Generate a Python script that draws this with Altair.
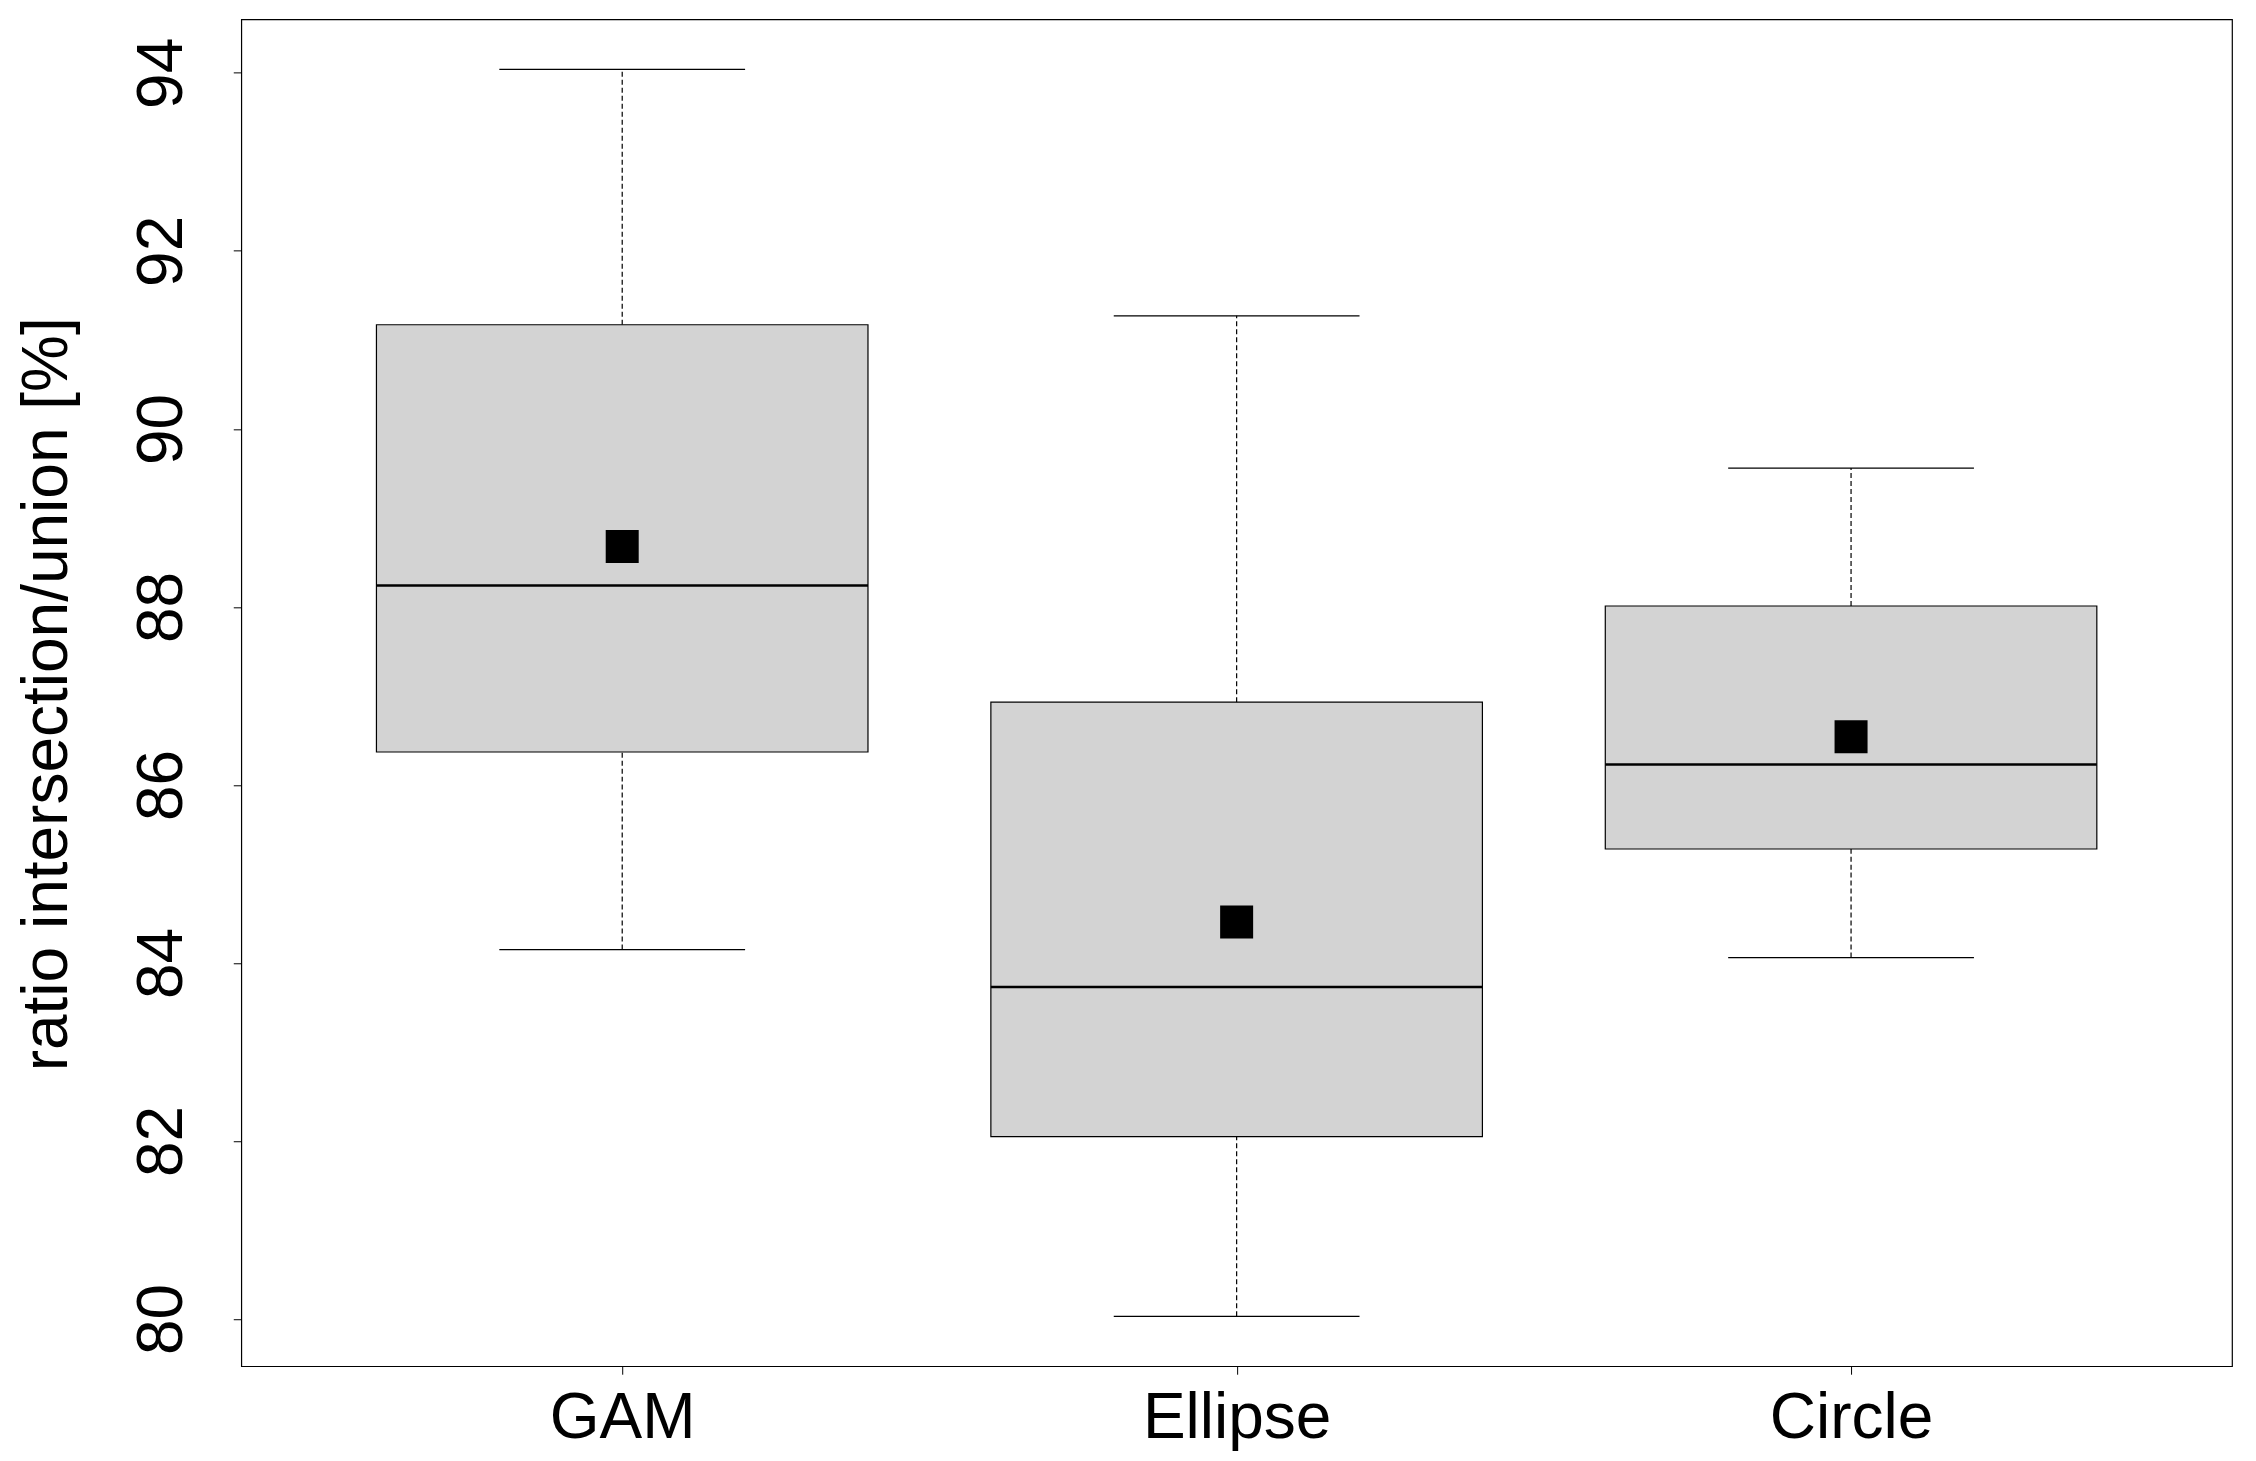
import json
import altair as alt
import pandas as pd

# ---- data ----
categories = ["GAM", "Ellipse", "Circle"]
whisker_low = [84.15, 80.03, 84.06]
q1 = [86.37, 82.05, 85.28]
median = [88.24, 83.73, 86.23]
q3 = [91.17, 86.93, 88.01]
whisker_high = [94.04, 91.27, 89.56]
mean = [88.68, 84.46, 86.54]
y_ticks = [80, 82, 84, 86, 88, 90, 92, 94]
y_title = "ratio intersection/union [%]"

n = len(categories)
df = pd.DataFrame({
    "cat": categories,
    "pos": list(range(1, n + 1)),
    "low": whisker_low,
    "q1": q1,
    "med": median,
    "q3": q3,
    "high": whisker_high,
    "mean": mean,
})

# R-style axis extents (4% extension)
dmin, dmax = min(whisker_low), max(whisker_high)
ext = 0.04 * (dmax - dmin)
y_domain = [dmin - ext, dmax + ext]
x_domain = [0.5 - 0.04 * n, n + 0.5 + 0.04 * n]

FONT = "Liberation Sans"
FS = 64
W, H = 1991, 1347

xs = alt.Scale(domain=x_domain, nice=False, zero=False)
ys = alt.Scale(domain=y_domain, nice=False, zero=False)

label_expr = json.dumps(categories) + "[datum.value - 1]"

x_axis = alt.Axis(
    values=list(range(1, n + 1)), labelExpr=label_expr, title="",
    domain=False, grid=False, ticks=True, tickColor="black", tickSize=8, tickWidth=1,
    labelFont=FONT, labelFontSize=FS, labelColor="black", labelPadding=63,
    labelBaseline="alphabetic", labelAlign="center", labelAngle=0,
    labelLimit=1000, labelFlush=False, labelOverlap=False,
)
y_axis = alt.Axis(
    values=y_ticks, title=y_title, format="d",
    domain=False, grid=False, ticks=True, tickColor="black", tickSize=8, tickWidth=1,
    labelFont=FONT, labelFontSize=FS, labelColor="black", labelPadding=52,
    labelAngle=270, labelAlign="center", labelBaseline="alphabetic",
    labelLimit=1000, labelFlush=False, labelOverlap=False,
    titleFont=FONT, titleFontSize=FS, titleFontWeight="normal", titleColor="black",
    titleAngle=270, titleAlign="center", titleBaseline="alphabetic",
    titleX=-175, titleY=H / 2 + 1,
)


def X(field):
    return alt.X(field, type="quantitative", scale=xs, axis=x_axis)


def Y(field):
    return alt.Y(field, type="quantitative", scale=ys, axis=y_axis)


base = alt.Chart(df).transform_calculate(
    bl="datum.pos - 0.4", br="datum.pos + 0.4",
    cl="datum.pos - 0.2", cr="datum.pos + 0.2",
)

upper_whisker = base.mark_rule(color="black", strokeWidth=1.2, strokeDash=[5, 3]).encode(
    x=X("pos"), y=Y("q3"), y2="high")
lower_whisker = base.mark_rule(color="black", strokeWidth=1.2, strokeDash=[5, 3]).encode(
    x=X("pos"), y=Y("low"), y2="q1")
upper_cap = base.mark_rule(color="black", strokeWidth=1.2).encode(
    x=X("cl"), x2="cr", y=Y("high"))
lower_cap = base.mark_rule(color="black", strokeWidth=1.2).encode(
    x=X("cl"), x2="cr", y=Y("low"))
box = base.mark_rect(fill="#d3d3d3", stroke="black", strokeWidth=1.2).encode(
    x=X("bl"), x2="br", y=Y("q1"), y2="q3")
med_line = base.mark_rule(color="black", strokeWidth=2.5).encode(
    x=X("bl"), x2="br", y=Y("med"))
mean_pt = base.mark_point(shape="square", filled=True, size=1089, color="black",
                          opacity=1, strokeWidth=0).encode(
    x=X("pos"), y=Y("mean"))

chart = alt.layer(
    upper_whisker, lower_whisker, upper_cap, lower_cap, box, med_line, mean_pt
).properties(
    width=W, height=H,
    autosize=alt.AutoSizeParams(type="none"),
    padding={"left": 233.3, "top": 11.3, "right": 16, "bottom": 85},
    background="white",
).configure_view(
    stroke="black", strokeWidth=1.2, fill="white",
)

chart.save("out.html", embed_options={"renderer": "svg", "actions": False})
